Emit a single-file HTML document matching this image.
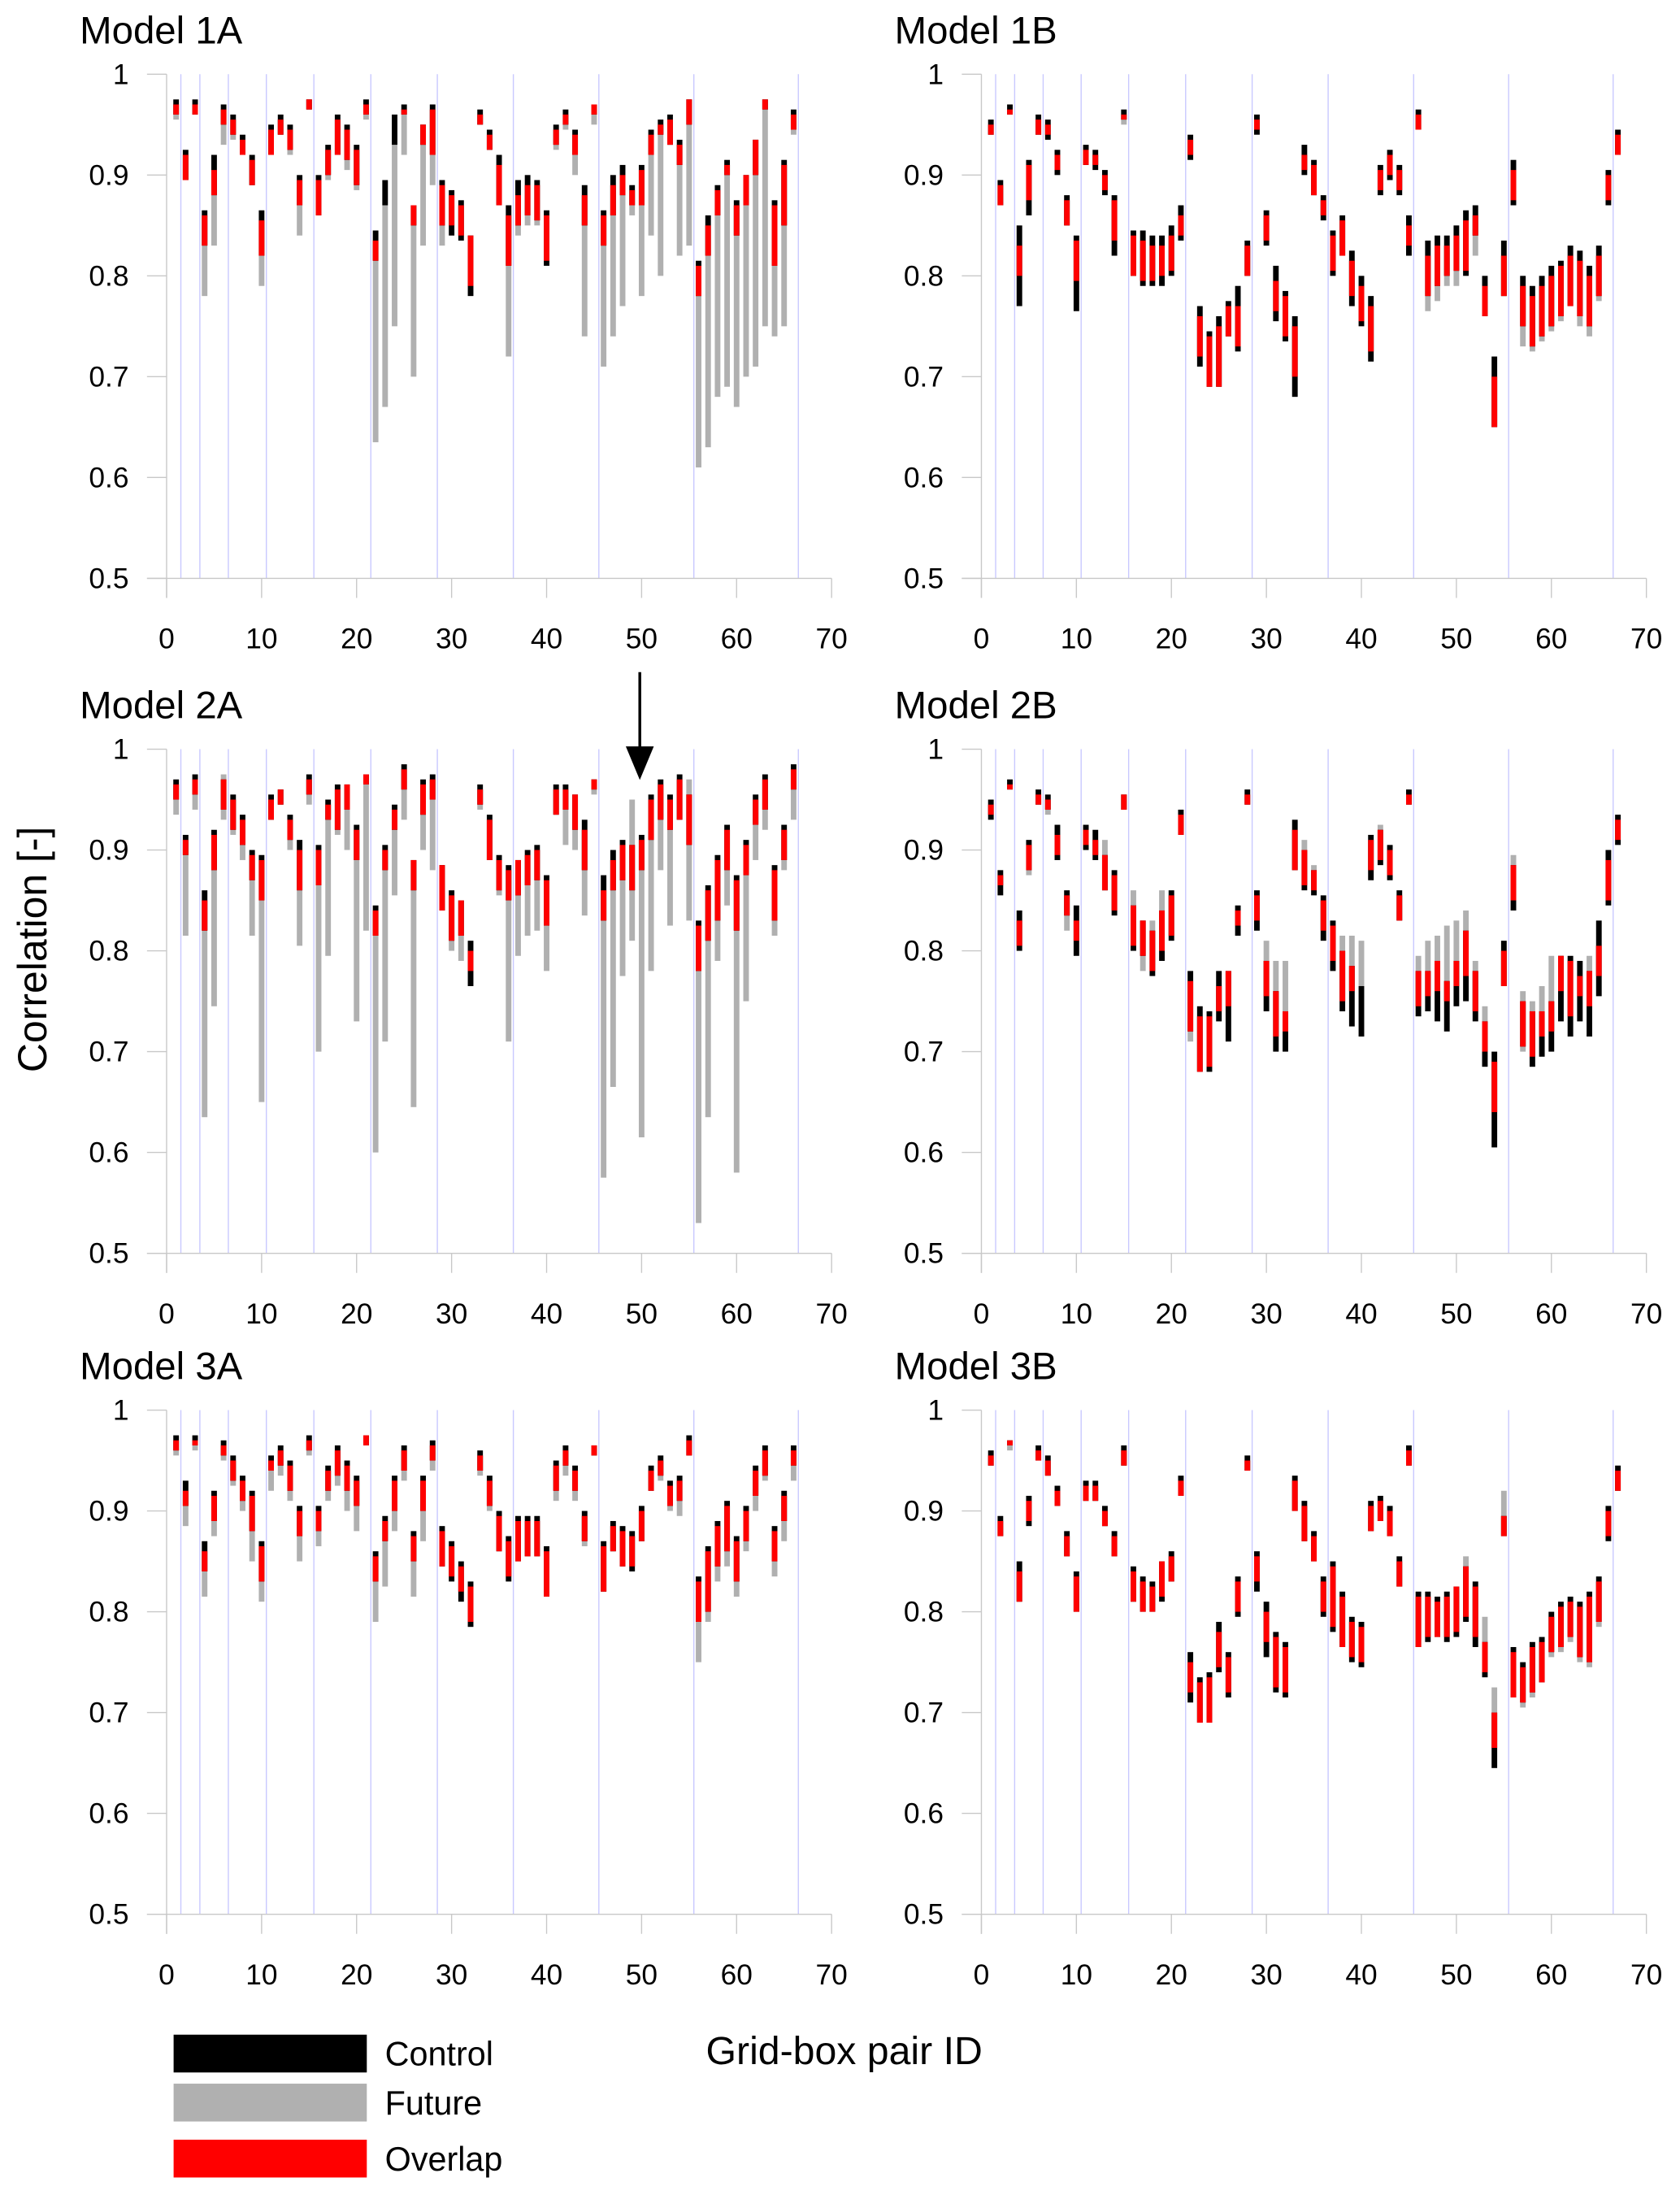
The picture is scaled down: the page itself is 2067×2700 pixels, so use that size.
<!DOCTYPE html>
<html><head><meta charset="utf-8"><style>
html,body{margin:0;padding:0;background:#fff;}
svg{display:block;font-family:"Liberation Sans",Arial,sans-serif;}
</style></head><body>
<svg id="chart" xmlns="http://www.w3.org/2000/svg" width="2067" height="2700" viewBox="0 0 1200 1567.5"></svg>
<script>
// Each bar: [controlLow, controlHigh, futureLow, futureHigh]
const data1A=[[.96,.975,.955,.97],[.895,.925,.895,.92],[.96,.975,.96,.97],[.83,.865,.78,.86],[.88,.92,.83,.905],[.95,.97,.93,.965],[.94,.96,.935,.955],[.92,.94,.92,.935],[.89,.92,.89,.915],[.82,.865,.79,.855],[.92,.95,.92,.945],[.94,.96,.94,.955],[.925,.95,.92,.945],[.87,.9,.84,.895],[.965,.975,.965,.975],[.86,.9,.86,.895],[.9,.93,.895,.925],[.92,.96,.92,.955],[.915,.95,.905,.945],[.89,.93,.885,.925],[.96,.975,.955,.97],[.815,.845,.635,.835],[.87,.895,.67,.87],[.93,.96,.75,.93],[.96,.97,.92,.965],[.85,.87,.7,.87],[.93,.95,.83,.95],[.92,.97,.89,.965],[.85,.895,.83,.89],[.84,.885,.85,.88],[.835,.875,.84,.87],[.78,.84,.79,.84],[.95,.965,.95,.96],[.925,.945,.925,.94],[.87,.92,.87,.91],[.81,.87,.72,.86],[.85,.895,.84,.88],[.86,.9,.85,.89],[.855,.895,.85,.89],[.81,.865,.815,.86],[.93,.95,.925,.945],[.95,.965,.945,.96],[.92,.945,.9,.94],[.85,.89,.74,.88],[.96,.97,.95,.97],[.83,.865,.71,.86],[.86,.9,.74,.89],[.88,.91,.77,.9],[.87,.89,.86,.885],[.87,.91,.78,.905],[.92,.945,.84,.94],[.94,.955,.8,.95],[.93,.96,.93,.955],[.91,.935,.82,.93],[.95,.975,.83,.975],[.78,.815,.61,.81],[.82,.86,.63,.85],[.86,.89,.68,.885],[.9,.915,.69,.91],[.84,.875,.67,.87],[.87,.9,.7,.9],[.9,.935,.71,.935],[.965,.975,.75,.975],[.81,.875,.74,.87],[.85,.915,.75,.91],[.945,.965,.94,.96]];
const data1B=[[.94,.955,.94,.95],[.87,.895,.87,.89],[.96,.97,.96,.965],[.77,.85,.8,.83],[.86,.915,.875,.91],[.94,.96,.94,.955],[.935,.955,.94,.95],[.9,.925,.905,.92],[.85,.88,.85,.875],[.765,.84,.795,.835],[.91,.93,.91,.925],[.905,.925,.91,.92],[.88,.905,.885,.9],[.82,.88,.835,.875],[.955,.965,.95,.96],[.8,.845,.8,.84],[.79,.845,.795,.835],[.79,.84,.795,.83],[.79,.84,.8,.83],[.8,.85,.805,.84],[.835,.87,.84,.86],[.915,.94,.92,.935],[.71,.77,.72,.76],[.69,.745,.69,.74],[.69,.76,.69,.75],[.74,.775,.74,.77],[.725,.79,.73,.77],[.8,.835,.8,.83],[.94,.96,.945,.955],[.83,.865,.835,.86],[.755,.81,.765,.795],[.735,.785,.74,.78],[.68,.76,.7,.75],[.9,.93,.905,.92],[.88,.915,.88,.91],[.855,.88,.86,.875],[.8,.845,.805,.84],[.82,.86,.82,.855],[.77,.825,.78,.815],[.75,.8,.755,.79],[.715,.78,.725,.77],[.88,.91,.885,.905],[.895,.925,.9,.92],[.88,.91,.885,.905],[.82,.86,.83,.85],[.945,.965,.945,.96],[.78,.835,.765,.82],[.79,.84,.775,.83],[.8,.84,.79,.83],[.805,.85,.79,.84],[.8,.865,.805,.855],[.84,.87,.82,.86],[.76,.8,.76,.79],[.65,.72,.65,.7],[.78,.835,.78,.82],[.87,.915,.875,.905],[.75,.8,.73,.79],[.73,.79,.725,.78],[.74,.8,.735,.79],[.75,.81,.745,.8],[.76,.815,.755,.81],[.77,.83,.77,.82],[.76,.825,.75,.815],[.75,.81,.74,.8],[.78,.83,.775,.82],[.87,.905,.875,.9],[.92,.945,.92,.94]];
const data2A=[[.95,.97,.935,.965],[.895,.915,.815,.91],[.955,.975,.94,.97],[.82,.86,.635,.85],[.88,.92,.745,.915],[.94,.97,.93,.975],[.92,.955,.915,.95],[.905,.935,.89,.93],[.87,.9,.815,.895],[.85,.895,.65,.89],[.93,.955,.93,.95],[.945,.96,.945,.96],[.91,.935,.9,.93],[.86,.91,.805,.9],[.955,.975,.945,.97],[.865,.905,.7,.9],[.93,.95,.795,.945],[.92,.965,.915,.96],[.94,.965,.9,.965],[.89,.925,.73,.92],[.965,.975,.82,.975],[.815,.845,.6,.84],[.88,.905,.71,.9],[.92,.945,.855,.94],[.96,.985,.93,.98],[.86,.89,.645,.89],[.935,.97,.9,.965],[.95,.975,.88,.97],[.84,.885,.84,.885],[.81,.86,.8,.855],[.815,.85,.79,.85],[.765,.81,.78,.8],[.945,.965,.94,.96],[.89,.935,.89,.93],[.86,.895,.855,.89],[.85,.885,.71,.88],[.855,.89,.795,.89],[.865,.9,.815,.895],[.87,.905,.82,.9],[.825,.875,.78,.87],[.935,.965,.935,.96],[.94,.965,.905,.96],[.92,.955,.9,.955],[.88,.93,.835,.92],[.96,.97,.955,.97],[.83,.875,.575,.86],[.86,.9,.665,.89],[.87,.91,.775,.905],[.86,.905,.81,.95],[.88,.915,.615,.91],[.91,.955,.78,.95],[.93,.97,.88,.965],[.92,.955,.825,.95],[.93,.975,.93,.97],[.905,.955,.83,.97],[.78,.83,.53,.825],[.81,.865,.635,.86],[.83,.895,.79,.89],[.88,.925,.845,.92],[.82,.875,.58,.87],[.875,.91,.75,.905],[.925,.955,.89,.95],[.94,.975,.92,.97],[.83,.885,.815,.88],[.89,.925,.88,.92],[.96,.985,.93,.98]];
const data2B=[[.93,.95,.935,.945],[.855,.88,.865,.875],[.96,.97,.96,.965],[.8,.84,.805,.83],[.88,.91,.875,.905],[.945,.96,.945,.955],[.94,.955,.935,.95],[.89,.925,.895,.915],[.835,.86,.82,.855],[.795,.845,.81,.83],[.9,.925,.905,.92],[.89,.92,.895,.91],[.86,.895,.86,.91],[.835,.88,.84,.875],[.94,.955,.94,.955],[.8,.845,.805,.86],[.795,.83,.78,.83],[.775,.82,.78,.83],[.79,.84,.8,.86],[.81,.86,.815,.855],[.915,.94,.915,.935],[.72,.78,.71,.77],[.68,.745,.68,.735],[.68,.74,.685,.735],[.73,.78,.74,.765],[.71,.78,.745,.78],[.815,.845,.825,.84],[.945,.96,.945,.955],[.82,.86,.83,.855],[.74,.79,.755,.81],[.7,.76,.715,.79],[.7,.74,.72,.79],[.88,.93,.88,.92],[.86,.9,.865,.91],[.855,.88,.86,.885],[.81,.855,.82,.85],[.78,.83,.79,.825],[.74,.8,.75,.815],[.725,.785,.76,.815],[.715,.765,.765,.81],[.87,.915,.88,.91],[.885,.92,.89,.925],[.87,.905,.875,.9],[.83,.86,.83,.855],[.945,.96,.945,.955],[.735,.78,.745,.795],[.74,.78,.755,.81],[.73,.79,.76,.815],[.72,.77,.75,.825],[.745,.79,.765,.83],[.75,.82,.775,.84],[.73,.78,.74,.79],[.685,.73,.7,.745],[.605,.7,.64,.69],[.765,.81,.765,.8],[.84,.885,.85,.895],[.705,.75,.7,.76],[.685,.74,.695,.75],[.695,.74,.715,.765],[.7,.75,.72,.795],[.73,.795,.76,.795],[.715,.795,.735,.79],[.73,.79,.755,.775],[.715,.78,.745,.795],[.755,.83,.775,.805],[.845,.9,.85,.89],[.905,.935,.91,.93]];
const data3A=[[.96,.975,.955,.97],[.905,.93,.885,.92],[.965,.975,.96,.97],[.84,.87,.815,.86],[.89,.92,.875,.915],[.955,.97,.95,.965],[.93,.955,.925,.95],[.91,.935,.9,.93],[.88,.92,.85,.915],[.83,.87,.81,.865],[.94,.955,.92,.95],[.945,.965,.935,.96],[.92,.95,.91,.945],[.875,.905,.85,.9],[.96,.975,.955,.97],[.88,.905,.865,.9],[.92,.945,.91,.94],[.935,.965,.925,.96],[.92,.95,.9,.945],[.905,.935,.88,.93],[.965,.975,.965,.975],[.83,.86,.79,.855],[.87,.895,.825,.89],[.9,.935,.88,.93],[.94,.965,.93,.96],[.85,.88,.815,.875],[.9,.935,.87,.93],[.95,.97,.94,.965],[.845,.885,.845,.88],[.83,.87,.835,.865],[.81,.85,.82,.845],[.785,.83,.79,.825],[.94,.96,.935,.955],[.905,.935,.9,.93],[.86,.9,.86,.895],[.83,.875,.835,.87],[.85,.895,.85,.89],[.855,.895,.855,.89],[.855,.895,.855,.89],[.815,.865,.815,.86],[.92,.95,.91,.945],[.945,.965,.935,.96],[.92,.945,.91,.94],[.87,.9,.865,.895],[.955,.965,.955,.965],[.82,.87,.82,.865],[.86,.89,.86,.885],[.845,.885,.845,.88],[.84,.88,.845,.875],[.87,.905,.87,.9],[.92,.945,.92,.94],[.935,.955,.93,.95],[.905,.93,.9,.925],[.91,.935,.895,.93],[.955,.975,.955,.97],[.79,.835,.75,.83],[.8,.865,.79,.86],[.845,.89,.83,.885],[.86,.91,.845,.905],[.83,.875,.815,.87],[.87,.905,.86,.9],[.915,.945,.9,.94],[.935,.965,.93,.96],[.85,.885,.835,.88],[.89,.92,.87,.915],[.945,.965,.93,.96]];
const data3B=[[.945,.96,.945,.955],[.875,.895,.875,.89],[.965,.97,.96,.97],[.81,.85,.81,.84],[.885,.915,.89,.91],[.95,.965,.95,.96],[.935,.955,.935,.95],[.905,.925,.905,.92],[.855,.88,.855,.875],[.8,.84,.8,.835],[.91,.93,.91,.925],[.91,.93,.91,.925],[.885,.905,.885,.9],[.855,.88,.855,.875],[.945,.965,.945,.96],[.81,.845,.81,.84],[.8,.835,.8,.83],[.8,.83,.8,.825],[.81,.85,.815,.85],[.83,.86,.83,.855],[.915,.935,.915,.93],[.71,.76,.72,.75],[.69,.735,.69,.73],[.69,.74,.69,.735],[.74,.79,.745,.78],[.715,.76,.72,.755],[.795,.835,.8,.83],[.94,.955,.94,.95],[.82,.86,.83,.855],[.755,.81,.77,.8],[.72,.78,.725,.775],[.715,.77,.72,.765],[.9,.935,.9,.93],[.87,.91,.87,.905],[.85,.88,.85,.875],[.795,.835,.8,.83],[.78,.85,.785,.845],[.765,.82,.765,.815],[.75,.795,.755,.79],[.745,.79,.75,.785],[.88,.91,.88,.905],[.89,.915,.89,.91],[.875,.905,.875,.9],[.825,.855,.825,.85],[.945,.965,.945,.96],[.765,.82,.765,.815],[.77,.82,.775,.815],[.775,.815,.775,.81],[.77,.82,.775,.815],[.775,.825,.78,.825],[.79,.845,.795,.855],[.765,.83,.775,.825],[.735,.77,.74,.795],[.645,.7,.665,.725],[.875,.895,.875,.92],[.715,.765,.715,.76],[.71,.75,.705,.745],[.72,.77,.715,.765],[.73,.775,.73,.77],[.76,.8,.755,.795],[.765,.81,.76,.805],[.775,.815,.77,.81],[.755,.81,.75,.805],[.75,.82,.745,.815],[.79,.835,.785,.83],[.87,.905,.875,.9],[.92,.945,.92,.94]];
const panelTitles=["Model 1A","Model 1B","Model 2A","Model 2B","Model 3A","Model 3B"];
const yTicks=[0.5,0.6,0.7,0.8,0.9,1];
const yTickLabels=["0.5","0.6","0.7","0.8","0.9","1"];
const xTicks=[0,10,20,30,40,50,60,70];
const dividers=[1.5,3.5,6.5,10.5,15.5,21.5,28.5,36.5,45.5,55.5,66.5];

const NS="http://www.w3.org/2000/svg";
const svg=document.getElementById('chart');
function mk(tag,attrs,parent){const e=document.createElementNS(NS,tag);for(const k in attrs)e.setAttribute(k,attrs[k]);(parent||svg).appendChild(e);return e;}

const allData=[data1A,data1B,data2A,data2B,data3A,data3B];
const colX=[119,701], rowBottom=[413,895,1367], plotW=475, plotH=360;

allData.forEach((d,pi)=>{
  const col=pi%2,row=Math.floor(pi/2);
  const x0=colX[col], yb=rowBottom[row];
  const xs=v=>x0+v/70*plotW;
  const ys=v=>yb-(v-0.5)/0.5*plotH;
  const g=mk('g',{});
  
  
  const t=mk('text',{x:x0-62,y:yb-382,'font-size':27.5,fill:'#000'},g);
  t.textContent=panelTitles[pi];
  
  
  dividers.forEach(v=>{
    const l=mk('line',{x1:xs(v),x2:xs(v),y1:ys(1),y2:ys(0.5),stroke:'#c8c8ff','stroke-width':0.8},g);
    
    
  });
  const ya=mk('line',{x1:x0,x2:x0,y1:ys(1),y2:yb+14,stroke:'#c8c8c8','stroke-width':0.8},g);
  
  
  const xa=mk('line',{x1:x0-14,x2:x0+plotW,y1:yb,y2:yb,stroke:'#c8c8c8','stroke-width':0.8},g);
  
  
  yTicks.forEach((v,i)=>{
    mk('line',{x1:x0-14,x2:x0,y1:ys(v),y2:ys(v),stroke:'#c8c8c8','stroke-width':0.8},g);
    const tl=mk('text',{x:x0-27,y:ys(v)+7,'font-size':20.5,'text-anchor':'end',fill:'#000'},g);
    tl.textContent=yTickLabels[i];
    
    
  });
  xTicks.forEach(v=>{
    mk('line',{x1:xs(v),x2:xs(v),y1:yb,y2:yb+14,stroke:'#c8c8c8','stroke-width':0.8},g);
    const tl=mk('text',{x:xs(v),y:yb+50,'font-size':20.5,'text-anchor':'middle',fill:'#000'},g);
    tl.textContent=String(v);
    
    
  });
  const bw=4;
  d.forEach((b,i)=>{
    const id=i+1, cx=xs(id);
    const [cl,ch,fl,fh]=b;
    const gr=mk('rect',{x:cx-bw/2,y:ys(fh),width:bw,height:ys(fl)-ys(fh),fill:'#b0b0b0'},g);
    
    
    const bk=mk('rect',{x:cx-bw/2,y:ys(ch),width:bw,height:ys(cl)-ys(ch),fill:'#000'},g);
    
    
    const ol=Math.max(cl,fl), oh=Math.min(ch,fh);
    if(oh>ol){
      const rd=mk('rect',{x:cx-bw/2,y:ys(oh),width:bw,height:ys(ol)-ys(oh),fill:'#ff0000'},g);
      
      
    }
  });
});
const ar=mk('g',{});


mk('line',{x1:457,x2:457,y1:480,y2:538,stroke:'#000','stroke-width':2},ar);
mk('polygon',{points:'447,533 467,533 457,557',fill:'#000'},ar);
const yt=mk('text',{x:0,y:0,'font-size':29,'text-anchor':'middle',transform:'translate(33,678) rotate(-90)'});
yt.textContent='Correlation [-]';


const xt=mk('text',{x:603,y:1474,'font-size':28,'text-anchor':'middle'});
xt.textContent='Grid-box pair ID';


const legendLabels=['Control','Future','Overlap'];
const legendColors=['#000','#b0b0b0','#ff0000'];
const legendY=[1453,1488,1528];
legendLabels.forEach((lab,i)=>{
  const lg=mk('g',{});
  
  
  mk('rect',{x:124,y:legendY[i],width:138,height:27,fill:legendColors[i]},lg);
  const tx=mk('text',{x:275,y:legendY[i]+22,'font-size':24},lg);
  tx.textContent=lab;
});
</script>
</body></html>
